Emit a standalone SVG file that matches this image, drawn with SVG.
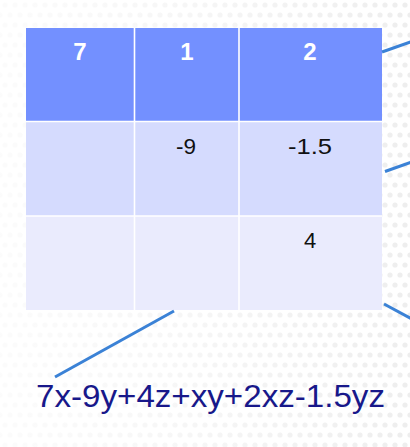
<svg xmlns="http://www.w3.org/2000/svg" width="410" height="447" viewBox="0 0 410 447">
<defs>
<pattern id="dots" width="10" height="20" patternUnits="userSpaceOnUse">
<circle cx="5" cy="5" r="2.6" fill="#eeeeee"/>
<circle cx="0" cy="15" r="2.6" fill="#eeeeee"/>
<circle cx="10" cy="15" r="2.6" fill="#eeeeee"/>
</pattern>
<linearGradient id="fade" x1="0" y1="0" x2="1" y2="0">
<stop offset="0" stop-color="#fff" stop-opacity="0.8"/>
<stop offset="0.5" stop-color="#fff" stop-opacity="0.45"/>
<stop offset="1" stop-color="#fff" stop-opacity="0"/>
</linearGradient>
</defs>
<style>
.hdr{fill:#7390FF}
.r2{fill:#D5DBFE}
.r3{fill:#EAEBFD}
.sep{stroke:#ffffff;stroke-width:1.6}
.conn{stroke:#3B82D6;stroke-width:3;stroke-linecap:butt;fill:none}
.ht{font-family:"Liberation Sans",Arial,sans-serif;font-weight:bold;font-size:24px;fill:#ffffff;text-anchor:middle}
.ct{font-family:"Liberation Sans",Arial,sans-serif;font-size:22px;fill:#111111;text-anchor:middle}
.ft{font-family:"Liberation Sans",Arial,sans-serif;font-size:32px;fill:#18188A}
</style>
<rect width="410" height="447" fill="#ffffff"/>
<rect width="410" height="447" fill="url(#dots)"/>
<rect width="410" height="447" fill="url(#fade)"/>
<g id="table">
<rect class="hdr" x="26" y="28" width="356" height="93"/>
<rect class="r2" x="26" y="121" width="356" height="95"/>
<rect class="r3" x="26" y="216" width="356" height="94"/>
<line class="sep" x1="26" y1="121.5" x2="382" y2="121.5"/>
<line class="sep" x1="26" y1="216" x2="382" y2="216"/>
<line class="sep" x1="134.5" y1="28" x2="134.5" y2="310"/>
<line class="sep" x1="239" y1="28" x2="239" y2="310"/>
<text class="ht" x="80" y="60">7</text>
<text class="ht" x="187" y="60">1</text>
<text class="ht" x="310" y="60">2</text>
<text class="ct" x="186" y="154" textLength="20" lengthAdjust="spacingAndGlyphs">-9</text>
<text class="ct" x="310" y="154" textLength="44" lengthAdjust="spacingAndGlyphs">-1.5</text>
<text class="ct" x="310" y="248">4</text>
</g>
<g id="connectors">
<line class="conn" x1="382" y1="52" x2="412" y2="41.5"/>
<line class="conn" x1="385" y1="171.5" x2="412" y2="162"/>
<line class="conn" x1="384" y1="304" x2="412" y2="319"/>
<line class="conn" x1="174" y1="311" x2="55" y2="377"/>
</g>
<g id="formula">
<text class="ft" x="36" y="407" textLength="349" lengthAdjust="spacingAndGlyphs">7x-9y+4z+xy+2xz-1.5yz</text>
</g>
</svg>
